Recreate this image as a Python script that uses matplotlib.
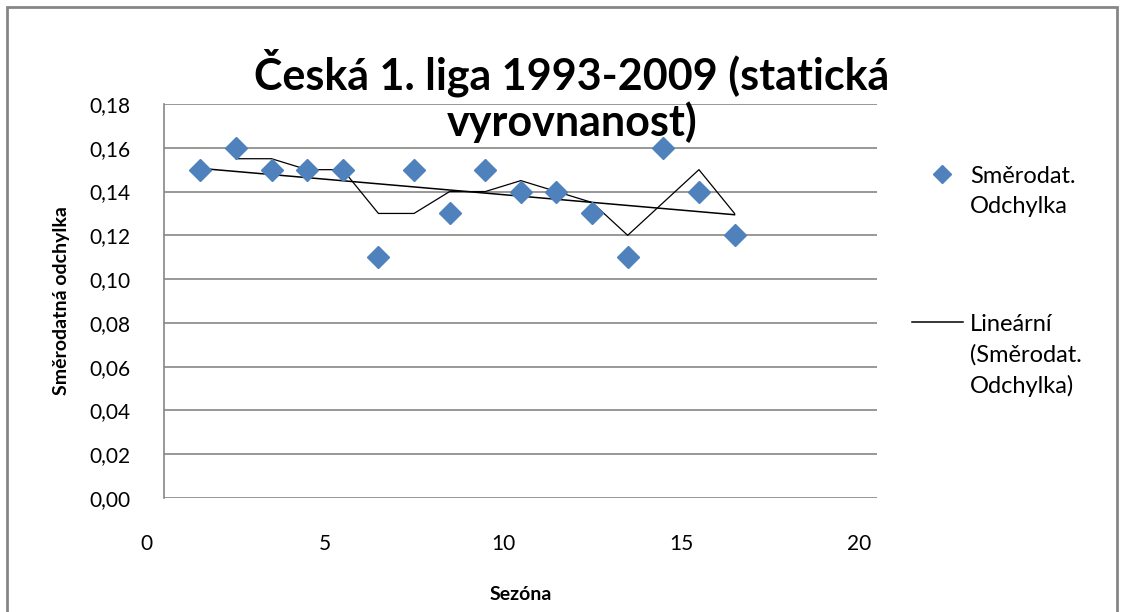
import numpy as np
import matplotlib
matplotlib.use("Agg")
import matplotlib.pyplot as plt
from matplotlib.lines import Line2D
from matplotlib.patches import Rectangle

# season index (Excel scatter x) and standard deviation per season
sezona = [1.5, 2.5, 3.5, 4.5, 5.5, 6.5, 7.5, 8.5, 9.5, 10.5, 11.5, 12.5, 13.5, 14.5, 15.5, 16.5]
odchylka = [0.15, 0.16, 0.15, 0.15, 0.15, 0.11, 0.15, 0.13, 0.15, 0.14, 0.14, 0.13, 0.11, 0.16, 0.14, 0.12]

y_ticks = [0.00, 0.02, 0.04, 0.06, 0.08, 0.10, 0.12, 0.14, 0.16, 0.18]
x_ticks = [0, 5, 10, 15, 20]

BLUE = "#4F81BD"
GRID = "#868686"
plt.rcParams['font.family'] = ['Lato', 'DejaVu Sans']

x = np.array(sezona)
y = np.array(odchylka)

# Excel trendlines: linear fit and 2-period moving average
k, q = np.polyfit(x, y, 1)
trend = k * x + q
ma = np.convolve(y, [0.5, 0.5], mode="valid")

fig = plt.figure(figsize=(11.23, 6.12), dpi=100)
ax = fig.add_axes([164 / 1123, 1 - 498 / 612, (877 - 164) / 1123, (498 - 104) / 612])

ax.plot(x[1:], ma, color="black", lw=0.9, zorder=2)
ax.plot(x, trend, color="black", lw=1.1, zorder=2)
ax.plot(x, y, linestyle="none", marker="D", markersize=11, color=BLUE, zorder=3)

XPAD = 26
ax.set_ylim(0, 0.18)
ax.set_xlim(0.48, 20.5)
ax.set_yticks(y_ticks)
ax.set_yticklabels([f"{v:.2f}".replace(".", ",") for v in y_ticks], fontsize=15)
ax.set_xticks(x_ticks[1:])
ax.set_xticklabels([str(v) for v in x_ticks[1:]], fontsize=15)
# the "0" label sits left of the plotted range, like in Excel
ax.annotate(str(x_ticks[0]), xy=(x_ticks[0], 0), xycoords=ax.get_xaxis_transform(),
            xytext=(0, -XPAD), textcoords="offset points",
            ha="center", va="top", fontsize=15, annotation_clip=False)
ax.tick_params(length=0)
ax.tick_params(axis="x", pad=XPAD)
ax.tick_params(axis="y", pad=24)
ax.yaxis.grid(True, color=GRID, lw=1.2)
ax.set_axisbelow(True)
for s in ["top", "right", "bottom"]:
    ax.spines[s].set_visible(False)
ax.spines["left"].set_color(GRID)
ax.spines["left"].set_linewidth(1.2)

ax.set_xlabel("Sezóna", fontsize=14, fontweight="bold", labelpad=23)
ax.set_ylabel("Směrodatná odchylka", fontsize=14, fontweight="bold", labelpad=14)

fig.text(572 / 1123, 1 - 96 / 612, "Česká 1. liga 1993-2009 (statická\nvyrovnanost)",
         ha="center", va="center", fontsize=31, fontweight="bold", linespacing=1.12)

# legend drawn by hand: handles align with the first text line, as in Excel
fig.add_artist(Line2D([942 / 1123], [1 - 174 / 612], transform=fig.transFigure,
                      linestyle="none", marker="D", markersize=9, color=BLUE))
fig.text(970 / 1123, 1 - 166 / 612, "Směrodat.\nOdchylka", ha="left", va="top",
         fontsize=17, linespacing=1.52)
fig.add_artist(Line2D([912 / 1123, 963 / 1123], [1 - 322 / 612] * 2,
                      transform=fig.transFigure, color="black", lw=1.1))
fig.text(970 / 1123, 1 - 314 / 612, "Lineární\n(Směrodat.\nOdchylka)", ha="left", va="top",
         fontsize=17, linespacing=1.52)

# outer chart border
fig.patches.append(Rectangle((7 / 1123, -0.1), 1110 / 1123, 1.1 - 7 / 612,
                             transform=fig.transFigure, fill=False,
                             edgecolor=GRID, lw=2))

fig.savefig("out.png", dpi=100)
